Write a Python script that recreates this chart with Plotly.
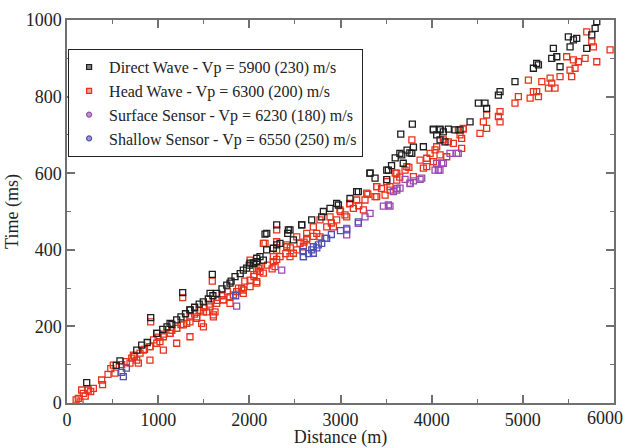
import plotly.graph_objects as go

# ---- data ----
direct_x = [216, 540, 581, 765, 819, 880, 918, 984, 984, 1050, 1097, 1130, 1150, 1203, 1250, 1269, 1300,
            1349, 1349, 1400, 1450, 1495, 1550, 1569, 1594, 1600, 1642, 1700, 1752, 1788, 1800, 1843, 1900,
            1934, 1971, 2000, 2008, 2044, 2050, 2081, 2081, 2117, 2154, 2172, 2190, 2191, 2263, 2300, 2300,
            2336, 2421, 2428, 2446, 2483, 2574, 2575, 2684, 2794, 2812, 2885, 2958, 2977, 3104, 3177, 3196,
            3323, 3324, 3379, 3507, 3507, 3525, 3560, 3600, 3651, 3661, 3672, 3688, 3730, 3760, 3782, 3788,
            3800, 3909, 4018, 4019, 4055, 4091, 4092, 4092, 4128, 4146, 4183, 4256, 4311, 4421, 4512, 4585,
            4603, 4732, 4750, 4914, 5116, 5152, 5171, 5317, 5335, 5372, 5408, 5499, 5518, 5555, 5591, 5701,
            5756, 5793, 5811]
direct_y = [53, 98, 110, 138, 151, 158, 223, 182, 182, 192, 199, 208, 205, 217, 225, 288, 233,
            243, 243, 250, 258, 264, 272, 286, 336, 280, 286, 298, 308, 313, 318, 330, 338,
            347, 352, 360, 365, 365, 365, 369, 378, 382, 373, 441, 400, 443, 404, 413, 465,
            417, 443, 452, 452, 426, 465, 465, 478, 486, 500, 508, 521, 517, 534, 552, 552,
            600, 600, 587, 583, 608, 608, 620, 640, 652, 702, 648, 626, 660, 653, 652, 728,
            668, 669, 715, 713, 700, 715, 713, 687, 708, 682, 715, 713, 713, 734, 783, 783,
            769, 804, 813, 839, 874, 887, 883, 900, 926, 904, 878, 956, 930, 948, 952, 926,
            961, 978, 996]

head_x = [100, 124, 143, 161, 179, 200, 234, 260, 289, 380, 390, 450, 480, 508, 526, 600, 650, 691, 710,
          728, 740, 765, 783, 801, 837, 850, 910, 910, 911, 918, 950, 984, 1000, 1020, 1057, 1057, 1060,
          1130, 1130, 1150, 1203, 1203, 1203, 1250, 1269, 1276, 1313, 1349, 1349, 1350, 1400, 1422, 1423,
          1450, 1477, 1496, 1496, 1500, 1532, 1560, 1569, 1594, 1606, 1606, 1624, 1642, 1650, 1700, 1715,
          1715, 1760, 1788, 1788, 1825, 1861, 1880, 1916, 1934, 1934, 1950, 2008, 2008, 2008, 2050, 2051,
          2081, 2081, 2081, 2100, 2117, 2117, 2154, 2154, 2172, 2200, 2250, 2263, 2263, 2282, 2300, 2300,
          2300, 2300, 2337, 2400, 2410, 2410, 2446, 2450, 2483, 2520, 2520, 2556, 2593, 2600, 2629, 2629,
          2629, 2700, 2702, 2739, 2775, 2775, 2849, 2885, 2900, 2922, 2958, 2994, 3000, 3049, 3068, 3100,
          3104, 3141, 3177, 3200, 3251, 3269, 3287, 3300, 3379, 3397, 3397, 3397, 3450, 3489, 3507, 3543,
          3544, 3600, 3617, 3617, 3650, 3708, 3727, 3750, 3783, 3800, 3873, 3909, 3946, 3946, 3983, 4019,
          4037, 4055, 4092, 4128, 4165, 4183, 4238, 4293, 4311, 4329, 4329, 4347, 4347, 4530, 4567, 4603,
          4603, 4732, 4750, 4750, 4914, 4951, 5061, 5080, 5116, 5152, 5171, 5208, 5281, 5299, 5317, 5353,
          5408, 5481, 5518, 5536, 5555, 5573, 5610, 5683, 5701, 5756, 5774, 5811, 5957]
head_y = [8, 12, 3, 34, 25, 18, 34, 30, 38, 60, 48, 75, 90, 99, 78, 100, 108, 104, 117,
          125, 122, 112, 104, 130, 138, 140, 147, 112, 147, 212, 165, 156, 172, 160, 173, 138, 180,
          182, 182, 190, 195, 195, 156, 205, 275, 204, 208, 212, 173, 225, 232, 225, 221,
          242, 208, 238, 199, 250, 238, 258, 251, 318, 230, 225, 238, 260, 268, 280, 269,
          269, 290, 278, 260, 282, 291, 300, 299, 295, 286, 318, 321, 373, 304, 335, 330,
          313, 317, 347, 352, 343, 356, 417, 339, 417, 360, 350, 369, 382, 356, 375, 421,
          399, 452, 382, 390, 413, 408, 382, 405, 391, 400, 434, 417, 408, 420, 430, 426,
          443, 435, 460, 443, 478, 434, 460, 486, 470, 460, 478, 504, 500, 491, 486, 520,
          521, 508, 530, 515, 504, 530, 548, 545, 539, 565, 565, 539, 560, 543, 578, 565,
          556, 600, 582, 600, 590, 608, 617, 615, 687, 591, 634, 613, 617, 639, 652, 630,
          661, 669, 648, 687, 643, 682, 678, 713, 700, 691, 665, 717, 715, 704, 734, 752,
          717, 748, 761, 734, 783, 800, 843, 796, 813, 813, 800, 839, 822, 848, 835, 822,
          852, 904, 869, 852, 896, 874, 891, 900, 969, 943, 930, 891, 922]

surface_x = [1861, 2355, 3068, 3068, 3196, 3269, 3324, 3470, 3525, 3543, 3580, 3617, 3620, 3653, 3708,
             3763, 3763, 3800, 3873, 3891, 4037, 4055, 4073, 4091, 4110, 4128, 4201, 4274, 4292]
surface_y = [253, 347, 439, 456, 469, 486, 495, 514, 517, 514, 552, 556, 560, 561, 584,
             573, 574, 580, 584, 587, 608, 626, 608, 608, 626, 626, 652, 652, 652]

shallow_x = [600, 618, 651, 1850, 2592, 2593, 2593, 2650, 2684, 2702, 2702, 2740, 2757, 2794, 2830,
             2848, 2900, 3000, 3068, 3196]
shallow_y = [80, 69, 91, 280, 395, 382, 382, 390, 400, 391, 408, 405, 413, 417, 430,
             430, 440, 450, 452, 473]

x_ticks = [0, 1000, 2000, 3000, 4000, 5000, 6000]
y_ticks = [0, 200, 400, 600, 800, 1000]

labels = ["Direct Wave - Vp = 5900 (230) m/s",
          "Head Wave - Vp = 6300 (200) m/s",
          "Surface Sensor - Vp = 6230 (180) m/s",
          "Shallow Sensor - Vp = 6550 (250) m/s"]
colors = ["#1e1e1e", "#e8321e", "#9a4ab0", "#5050b4"]

fig = go.Figure()

series = [(head_x, head_y, 1), (direct_x, direct_y, 0), (surface_x, surface_y, 2), (shallow_x, shallow_y, 3)]
for xs, ys, i in series:
    fig.add_trace(go.Scatter(x=xs, y=ys, mode="markers", showlegend=False,
                             marker=dict(symbol="square-open", size=6, color=colors[i],
                                         line=dict(width=1.3, color=colors[i]))))

# legend entries
leg_sym = ["square", "square", "circle", "circle"]
leg_fill = ["#8a7f7f", "#f0a0a0", "#b79ac8", "#9a9ad0"]
for i in range(4):
    fig.add_trace(go.Scatter(x=[None], y=[None], mode="markers", name=labels[i],
                             marker=dict(symbol=leg_sym[i], size=5, color=leg_fill[i],
                                         line=dict(width=1.2, color=colors[i]))))

serif = "Liberation Serif"
axis_common = dict(showline=True, linecolor="#707070", linewidth=1.5, mirror="ticks",
                   ticks="inside", ticklen=8, tickcolor="#707070", tickwidth=1.5,
                   showgrid=False, zeroline=False,
                   tickfont=dict(family=serif, size=18, color="#222"))

# last x label sits just inside the right edge (as in the reference)
x_text = [str(v) for v in x_ticks[:-1]] + [""]
fig.update_xaxes(range=[0, 6000], tickmode="array", tickvals=x_ticks, ticktext=x_text,
                 minor=dict(dtick=500, ticks="inside", ticklen=4, tickcolor="#707070", tickwidth=1.2),
                 title=dict(text="Distance (m)", font=dict(family=serif, size=18, color="#222"),
                            standoff=4),
                 **axis_common)
fig.update_yaxes(range=[0, 1000], tickmode="array", tickvals=y_ticks,
                 minor=dict(dtick=100, ticks="inside", ticklen=4, tickcolor="#707070", tickwidth=1.2),
                 title=dict(text="Time (ms)", font=dict(family=serif, size=18, color="#222"),
                            standoff=2),
                 **axis_common)

fig.add_annotation(x=x_ticks[-1], y=0, xref="x", yref="y", text=str(x_ticks[-1]),
                   showarrow=False, xanchor="right", yanchor="top", xshift=11, yshift=-3,
                   font=dict(family=serif, size=18, color="#222"))

fig.update_layout(
    width=626, height=448,
    margin=dict(l=67, r=12, t=20, b=45, autoexpand=False),
    plot_bgcolor="white", paper_bgcolor="white",
    legend=dict(x=0.002, y=0.924, xanchor="left", yanchor="top",
                bgcolor="white", bordercolor="#222", borderwidth=1,
                font=dict(family=serif, size=16, color="#222"),
                itemwidth=30, tracegroupgap=0),
)

fig.write_html("out.html", config={"displayModeBar": False},
               post_script="document.body.style.margin='0';document.body.style.overflow='hidden';")
